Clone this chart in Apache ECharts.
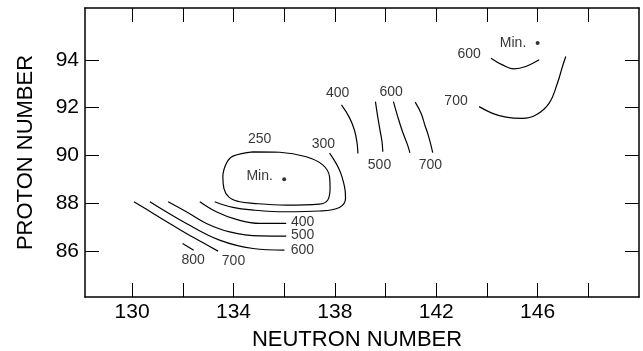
<!DOCTYPE html>
<html>
<head>
<meta charset="utf-8">
<script src="https://cdn.jsdelivr.net/npm/echarts@6/dist/echarts.min.js"></script>
<style>
html,body{margin:0;padding:0;background:#fff;}
#chart{width:643px;height:351px;}
</style>
</head>
<body>
<div id="chart"></div>
<script>
// Axis ranges and ticks
const xRange = [128.14, 150];
const yRange = [84.07, 96.17];
const xTickValues = [130, 132, 134, 136, 138, 140, 142, 144, 146, 148];
const xTickLabels = [130, 134, 138, 142, 146];
const yTickValues = [86, 88, 90, 92, 94];

// Contour lines [neutron, proton]
const c250 = [[134.77,90.15],[135.82,90.13],[136.87,89.94],[137.52,89.60],[137.79,89.10],[137.81,88.62],[137.72,88.13],[137.39,87.96],[136.08,87.92],[134.77,87.99],[134.20,88.07],[133.82,88.25],[133.62,88.62],[133.58,89.10],[133.72,89.67],[133.98,89.97],[134.77,90.15]];
const c300 = [[133.26,88.06],[133.98,87.82],[134.77,87.71],[136.08,87.64],[137.39,87.67],[138.18,87.82],[138.42,88.20],[138.38,88.69],[138.18,89.39],[137.79,90.09]];
const c400low = [[132.67,88.06],[133.32,87.64],[134.11,87.32],[135.03,87.15],[136.08,87.15]];
const c500low = [[131.42,88.06],[132.14,87.64],[132.93,87.15],[133.85,86.80],[135.03,86.63],[136.08,86.62]];
const c600low = [[130.70,88.06],[132.14,87.15],[133.45,86.45],[134.77,86.10],[136.01,86.03]];
const c700low = [[130.07,88.06],[130.83,87.57],[131.48,87.15],[132.14,86.73],[132.80,86.34],[133.39,85.99]];
const c800low = [[131.99,86.31],[132.43,86.03]];
const c400mid = [[138.26,92.11],[138.57,91.59],[138.77,91.06],[138.87,90.56],[138.91,90.08]];
const c500mid = [[139.60,92.25],[139.69,91.62],[139.78,91.06],[139.86,90.57],[139.89,90.15]];
const c600mid = [[140.31,92.25],[140.48,91.62],[140.67,90.99],[140.87,90.43],[140.96,90.11]];
const c700mid = [[141.17,92.23],[141.40,91.76],[141.57,91.20],[141.66,90.93],[141.79,90.43],[141.86,90.11]];
const c600up = [[144.16,94.07],[144.61,93.79],[145.07,93.62],[145.53,93.72],[146.06,94.00]];
const c700up = [[143.69,92.04],[144.22,91.76],[144.75,91.60],[145.40,91.55],[145.93,91.69],[146.45,92.18],[146.78,93.02],[146.98,93.72],[147.11,94.14]];

// Contour labels [neutron, proton, text]
const contourLabels = [
  [135.03,90.69,'250'],[137.55,90.48,'300'],
  [136.73,87.22,'400'],[136.73,86.66,'500'],[136.72,86.03,'600'],
  [134.0,85.59,'700'],[132.41,85.61,'800'],
  [138.11,92.62,'400'],[140.22,92.64,'600'],[139.76,89.58,'500'],[141.77,89.58,'700'],
  [143.30,94.25,'600'],[142.78,92.28,'700'],
  [135.03,89.13,'Min.'],[145.03,94.71,'Min.']
];
// Minimum points
const minPoints = [[136.0,89.0],[146.0,94.7]];

const FONT = "'Liberation Sans', Arial, Helvetica, sans-serif";
const lines = [c250,c300,c400low,c500low,c600low,c700low,c800low,c400mid,c500mid,c600mid,c700mid,c600up,c700up];

const lineSeries = lines.map(d => ({
  type: 'line', data: d, smooth: 0.4, showSymbol: false, symbol: 'none',
  lineStyle: {color: '#000', width: 1.2}, silent: true, animation: false,
  xAxisIndex: 0, yAxisIndex: 0
}));

const axisCommon = {
  axisLine: {show: true, lineStyle: {color: '#000', width: 1.5}},
  splitLine: {show: false}
};

const chart = echarts.init(document.getElementById('chart'), null, {renderer: 'canvas'});
chart.setOption({
  animation: false,
  backgroundColor: '#fff',
  grid: {left: 85, right: 4, top: 8, bottom: 54, containLabel: false, outerBoundsMode: 'none'},
  xAxis: [
    Object.assign({}, axisCommon, {
      type: 'value', min: xRange[0], max: xRange[1], position: 'bottom',
      name: 'NEUTRON NUMBER', nameLocation: 'middle', nameGap: 32,
      nameTextStyle: {fontFamily: FONT, fontSize: 22, color: '#000', padding: [0, 10, 0, 0]},
      axisTick: {show: true, inside: true, length: 14, customValues: xTickValues, lineStyle: {color: '#000', width: 1}},
      axisLabel: {show: true, customValues: xTickLabels, fontFamily: FONT, fontSize: 21, color: '#000', margin: 5}
    }),
    Object.assign({}, axisCommon, {
      type: 'value', min: xRange[0], max: xRange[1], position: 'top',
      axisTick: {show: true, inside: true, length: 14, customValues: xTickValues, lineStyle: {color: '#000', width: 1}},
      axisLabel: {show: false}
    })
  ],
  yAxis: [
    Object.assign({}, axisCommon, {
      type: 'value', min: yRange[0], max: yRange[1], position: 'left',
      name: 'PROTON NUMBER', nameLocation: 'middle', nameGap: 48, nameRotate: 90,
      nameTextStyle: {fontFamily: FONT, fontSize: 22, color: '#000'},
      axisTick: {show: true, inside: true, length: 14, customValues: yTickValues, lineStyle: {color: '#000', width: 1}},
      axisLabel: {show: true, customValues: yTickValues, fontFamily: FONT, fontSize: 21, color: '#000', margin: 6}
    }),
    Object.assign({}, axisCommon, {
      type: 'value', min: yRange[0], max: yRange[1], position: 'right',
      axisTick: {show: true, inside: true, length: 14, customValues: yTickValues, lineStyle: {color: '#000', width: 1}},
      axisLabel: {show: false}
    })
  ],
  series: lineSeries.concat([
    {
      type: 'scatter', data: contourLabels, symbolSize: 0, silent: true,
      encode: {x: 0, y: 1},
      label: {show: true, position: 'inside', formatter: p => p.value[2],
        fontFamily: FONT, fontSize: 14, color: '#000'}
    },
    {
      type: 'scatter', data: minPoints, symbol: 'circle', symbolSize: 4, silent: true,
      itemStyle: {color: '#000'}
    }
  ])
});
</script>
</body>
</html>
